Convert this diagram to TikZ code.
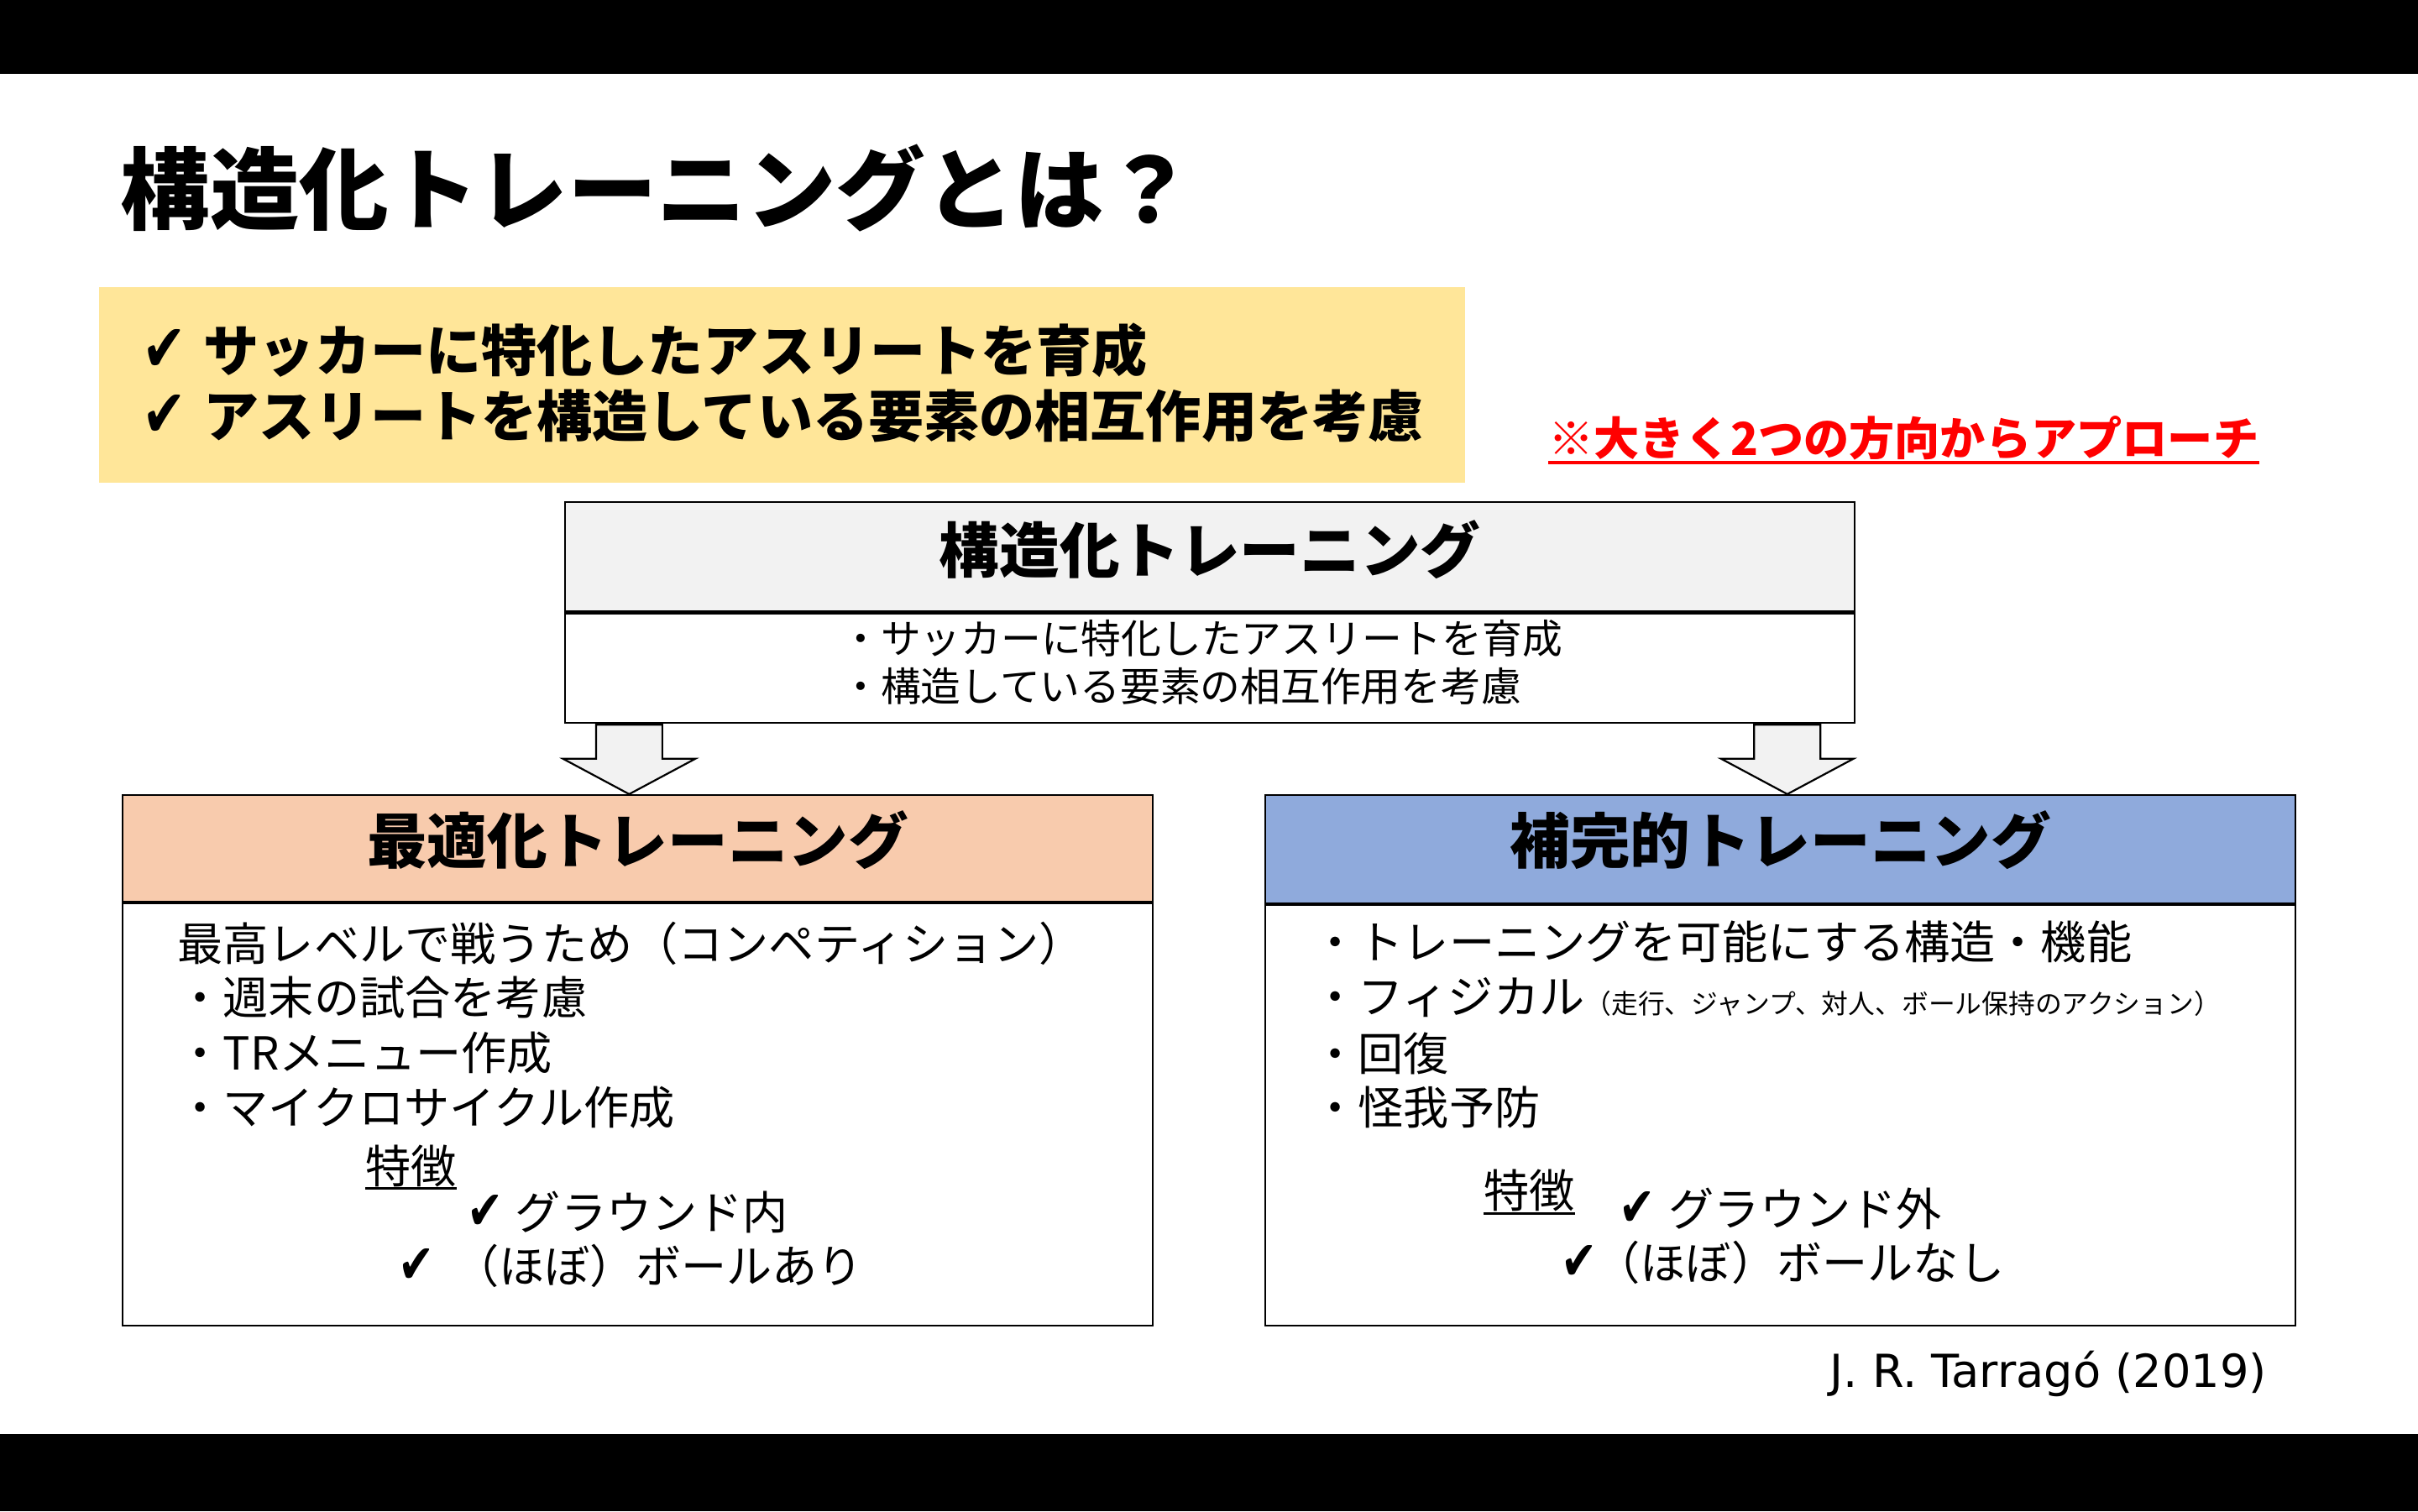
\documentclass[tikz,border=0pt]{standalone}
\usepackage{fontspec}
\setmainfont{Noto Sans CJK JP}
\newfontfamily\symfont{DejaVu Sans}
\newfontfamily\latinfont{DejaVu Sans}
\definecolor{memo}{HTML}{FFE699}
\definecolor{shade}{HTML}{F2F2F2}
\definecolor{salmon}{HTML}{F8CBAD}
\definecolor{skyblue}{HTML}{8FAADC}
\definecolor{alert}{HTML}{FF0000}
\newcommand\fs[1]{\fontsize{#1pt}{#1pt}\selectfont}
\newcommand\chkbox[1]{\makebox[#1][l]{\symfont\scalebox{0.95}[1.2]{✔}}}
\tikzset{
	txt/.style={inner sep=0pt, anchor=west},
	frame/.style={draw, line width=1.2pt, inner sep=0pt, anchor=north west},
	bigarrow/.style={draw, line width=1.2pt, fill=shade, line join=miter},
}

\begin{document}
\begin{tikzpicture}[x=1pt, y=-1pt]
	\useasboundingbox (0,0) rectangle (1568,980);
	\fill[white] (0,0) rectangle (1568,980);
	\fill[black] (0,0) rectangle (1568,48);
	\fill[black] (0,930) rectangle (1568,980);

	\node[txt, font={\fs{58}\bfseries}] (title) at (78,122) {構造化トレーニングとは？};

	\node[fill=memo, inner sep=0pt, anchor=north west, minimum width=886, minimum height=127] (memo) at (64,186) {};
	\node[txt, font={\fs{36}\bfseries}] (memoA) at (92,227) {\chkbox{40pt}サッカーに特化したアスリートを育成};
	\node[txt, font={\fs{36}\bfseries}] (memoB) at (92,270) {\chkbox{40pt}アスリートを構造している要素の相互作用を考慮};

	\node[txt, font={\fs{29.5}\bfseries}, text=alert] (approach) at (1004,284) {※大きく2つの方向からアプローチ};
	\draw[alert, line width=2pt] ([yshift=-1.5pt]approach.south west) -- ([yshift=-1.5pt]approach.south east);

	\node[frame, fill=shade, minimum width=836, minimum height=71] (sthead) at (366,325) {};
	\node[frame, minimum width=836, minimum height=71] (stbody) at (sthead.south west) {};
	\node[font={\fs{39}\bfseries}, inner sep=0pt] at ([yshift=4.5pt]sthead.center) {構造化トレーニング};
	\node[txt, font=\fs{26}] at (545,414) {・サッカーに特化したアスリートを育成};
	\node[txt, font=\fs{26}] at (545,445) {・構造している要素の相互作用を考慮};

	\foreach \ax in {408,1159}
		\draw[bigarrow] (\ax-21.5,470) -- ++(43,0) -- ++(0,22) -- ++(21.5,0) -- (\ax,515) -- (\ax-43,492) -- ++(21.5,0) -- cycle;

	\node[frame, fill=salmon, minimum width=668, minimum height=69] (opthead) at (79,515) {};
	\node[frame, minimum width=668, minimum height=274] (optbody) at (opthead.south west) {};
	\node[font={\fs{39}\bfseries}, inner sep=0pt] at ([yshift=5.5pt]opthead.center) {最適化トレーニング};
	\foreach \y/\t in {612/最高レベルで戦うため（コンペティション）, 647/・週末の試合を考慮, 683/・TRメニュー作成, 718/・マイクロサイクル作成}
		\node[txt, font=\fs{29.5}] at (115,\y) {\t};
	\node[txt, font=\fs{29.5}] (featL) at (237,756) {特徴};
	\draw[line width=1.5pt] ([yshift=-1pt]featL.south west) -- ([yshift=-1pt]featL.south east);
	\node[txt, font=\fs{29.5}] at (303,786) {\chkbox{31pt}グラウンド内};
	\node[txt, font=\fs{29.5}] at (258,821) {\chkbox{36pt}（ほぼ）ボールあり};

	\node[frame, fill=skyblue, minimum width=668, minimum height=70] (comphead) at (820,515) {};
	\node[frame, minimum width=668, minimum height=273] (compbody) at (comphead.south west) {};
	\node[font={\fs{39}\bfseries}, inner sep=0pt] at ([yshift=6pt]comphead.center) {補完的トレーニング};
	\node[txt, font=\fs{29.5}] at (851,611) {・トレーニングを可能にする構造・機能};
	\node[txt, font=\fs{29.5}] at (851,647) {・フィジカル{\fs{17.3}（走行、ジャンプ、対人、ボール保持のアクション）}};
	\node[txt, font=\fs{29.5}] at (851,683) {・回復};
	\node[txt, font=\fs{29.5}] at (851,718) {・怪我予防};
	\node[txt, font=\fs{29.5}] (featR) at (962,772) {特徴};
	\draw[line width=1.5pt] ([yshift=-1pt]featR.south west) -- ([yshift=-1pt]featR.south east);
	\node[txt, font=\fs{29.5}] at (1050,784) {\chkbox{32pt}グラウンド外};
	\node[txt, font=\fs{29.5}] at (1012,819) {\chkbox{22pt}（ほぼ）ボールなし};

	\node[inner sep=0pt, anchor=east, font={\latinfont\fs{29.5}}] (cite) at (1470,891) {J. R. Tarragó (2019)};
\end{tikzpicture}
\end{document}
